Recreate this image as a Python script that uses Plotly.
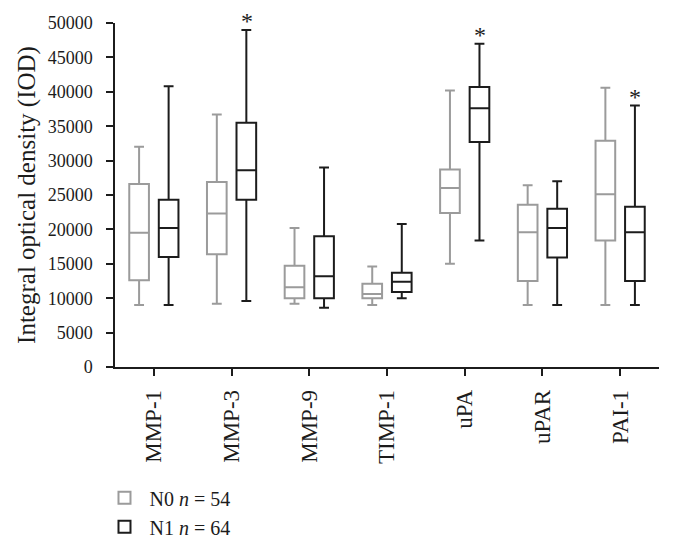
import plotly.graph_objects as go

categories = ["MMP-1", "MMP-3", "MMP-9", "TIMP-1", "uPA", "uPAR", "PAI-1"]

n0_lower = [9000, 9200, 9200, 9000, 15000, 9000, 9000]
n0_q1 = [12600, 16400, 10000, 10000, 22400, 12500, 18400]
n0_median = [19500, 22300, 11600, 10600, 26000, 19600, 25100]
n0_q3 = [26600, 26900, 14700, 12100, 28700, 23600, 32900]
n0_upper = [32000, 36700, 20200, 14600, 40200, 26400, 40600]

n1_lower = [9000, 9600, 8600, 10000, 18400, 9000, 9000]
n1_q1 = [16000, 24300, 10000, 10900, 32700, 15900, 12500]
n1_median = [20200, 28600, 13200, 12400, 37600, 20200, 19600]
n1_q3 = [24300, 35500, 19000, 13700, 40700, 23000, 23300]
n1_upper = [40800, 49000, 29000, 20800, 47000, 27000, 38000]

significant = ["MMP-3", "uPA", "PAI-1"]

FONT = "Liberation Serif"
GRAY = "#9b9b9b"
BLACK = "#1c1c1c"

fig = go.Figure()
fig.add_trace(go.Box(
    name="N0 <i>n</i> = 54", x=categories,
    q1=n0_q1, median=n0_median, q3=n0_q3,
    lowerfence=n0_lower, upperfence=n0_upper,
    boxpoints=False, whiskerwidth=0.5,
    line=dict(color=GRAY, width=2), fillcolor="white",
))
fig.add_trace(go.Box(
    name="N1 <i>n</i> = 64", x=categories,
    q1=n1_q1, median=n1_median, q3=n1_q3,
    lowerfence=n1_lower, upperfence=n1_upper,
    boxpoints=False, whiskerwidth=0.5,
    line=dict(color=BLACK, width=2), fillcolor="white",
))

upper_map = dict(zip(categories, n1_upper))
for c in significant:
    fig.add_annotation(
        x=c, y=upper_map[c], xref="x", yref="y",
        text="*", showarrow=False, xshift=15, yshift=-6,
        yanchor="bottom", font=dict(family=FONT, size=24, color=BLACK),
    )

# the page body adds an 8px margin, so the figure is sized to fit the window
fig.update_layout(
    width=666, height=539,
    margin=dict(l=106.5, r=15, t=15.3, b=179.7, autoexpand=False),
    paper_bgcolor="white", plot_bgcolor="white",
    boxmode="group", boxgap=0.24, boxgroupgap=0.334,
    font=dict(family=FONT, color=BLACK),
    showlegend=True,
    legend=dict(
        x=-0.0285, xanchor="left", y=-0.3235, yanchor="top",
        font=dict(family=FONT, size=20, color=BLACK),
        itemwidth=40,
        tracegroupgap=0, bgcolor="rgba(0,0,0,0)",
    ),
    xaxis=dict(
        type="category", showline=True, linecolor=BLACK, linewidth=1.5,
        ticks="outside", ticklen=7, tickwidth=1.5, tickcolor=BLACK,
        ticklabelstandoff=5,
        tickangle=-90, tickfont=dict(family=FONT, size=23, color=BLACK),
        showgrid=False, zeroline=False, automargin=False,
    ),
    yaxis=dict(
        range=[0, 50000], dtick=5000, tickformat="d",
        showline=True, linecolor=BLACK,
        linewidth=1.5, ticks="outside", ticklen=7, tickwidth=1.5,
        ticklabelstandoff=10,
        tickcolor=BLACK, tickfont=dict(family=FONT, size=18, color=BLACK),
        showgrid=False, zeroline=False, automargin=True,
        title=dict(text="Integral optical density (IOD)", standoff=5,
                   font=dict(family=FONT, size=25, color=BLACK)),
    ),
)

fig.write_html("out.html")
